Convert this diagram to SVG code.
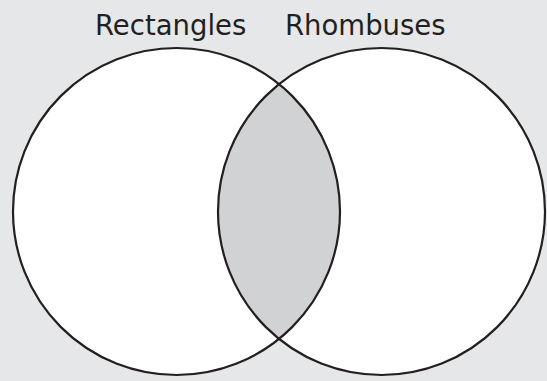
<svg xmlns="http://www.w3.org/2000/svg" width="547" height="381" viewBox="0 0 547 381">
  <style>
    .set { fill: #ffffff; stroke: none; }
    .outline { fill: none; stroke: #231f20; stroke-width: 2.2; }
    .label { font-family: "DejaVu Sans", Verdana, sans-serif; font-size: 27.5px; fill: #231f20; }
  </style>
  <defs>
    <clipPath id="clipLeft">
      <circle cx="176.5" cy="211.5" r="163.5"/>
    </clipPath>
  </defs>
  <rect width="547" height="381" fill="#e6e7e8"/>
  <g id="rectangles">
    <circle class="set" cx="176.5" cy="211.5" r="163.5"/>
  </g>
  <g id="rhombuses">
    <circle class="set" cx="381.5" cy="211.5" r="163.5"/>
  </g>
  <g id="overlap">
    <circle cx="381.5" cy="211.5" r="163.5" fill="#d1d2d4" clip-path="url(#clipLeft)"/>
  </g>
  <g id="outlines">
    <circle class="outline" cx="176.5" cy="211.5" r="163.5"/>
    <circle class="outline" cx="381.5" cy="211.5" r="163.5"/>
  </g>
  <g id="labels">
    <text class="label" x="95" y="35">Rectangles</text>
    <text class="label" x="285" y="35">Rhombuses</text>
  </g>
</svg>
